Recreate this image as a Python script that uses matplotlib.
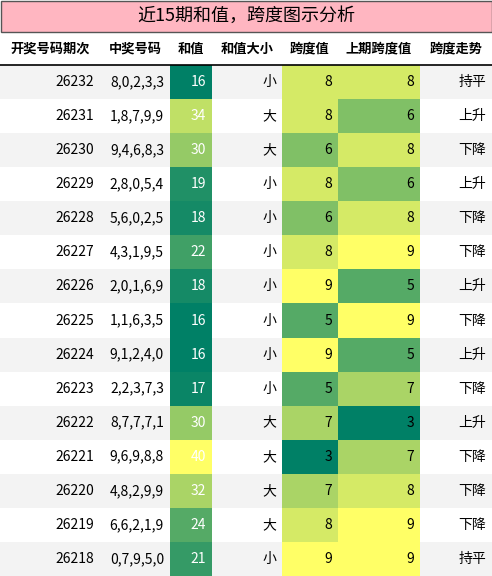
import matplotlib
matplotlib.use("Agg")
import matplotlib.pyplot as plt
from matplotlib.patches import Rectangle
from matplotlib import cm, colors

plt.rcParams['font.family'] = ['Noto Sans CJK SC', 'DejaVu Sans']

title = "近15期和值，跨度图示分析"
headers = ["开奖号码期次", "中奖号码", "和值", "和值大小", "跨度值", "上期跨度值", "跨度走势"]
issues = ["26232","26231","26230","26229","26228","26227","26226","26225","26224","26223","26222","26221","26220","26219","26218"]
numbers = ["8,0,2,3,3","1,8,7,9,9","9,4,6,8,3","2,8,0,5,4","5,6,0,2,5","4,3,1,9,5","2,0,1,6,9","1,1,6,3,5",
           "9,1,2,4,0","2,2,3,7,3","8,7,7,7,1","9,6,9,8,8","4,8,2,9,9","6,6,2,1,9","0,7,9,5,0"]
sums = [16,34,30,19,18,22,18,16,16,17,30,40,32,24,21]
sizes = ["小","大","大","小","小","小","小","小","小","小","大","大","大","大","小"]
spans = [8,8,6,8,6,8,9,5,9,5,7,3,7,8,9]
prev_spans = [8,6,8,6,8,9,5,9,5,7,3,7,8,9,9]
trends = ["持平","上升","下降","上升","下降","下降","上升","下降","上升","下降","上升","下降","下降","下降","持平"]

W, H = 492, 576
fig = plt.figure(figsize=(W/100, H/100), dpi=100)
ax = fig.add_axes([0, 0, 1, 1])
ax.set_xlim(0, W); ax.set_ylim(H, 0); ax.axis('off')

edges = [0, 100, 170, 212, 282, 338, 420, 492]
title_h, head_h = 32, 33
row_h = (H - title_h - head_h) / len(issues)

ax.add_patch(Rectangle((0.5, 0.5), W-1, title_h-1, facecolor='#ffb6c1', edgecolor='#555555', lw=1))
ax.text(W/2, title_h/2, title, ha='center', va='center', fontsize=13)

y0 = title_h
for i, h in enumerate(headers):
    ax.text((edges[i]+edges[i+1])/2, y0+head_h/2, h, ha='center', va='center', fontsize=9.5, fontweight='bold')
ax.plot([0, W], [y0+head_h, y0+head_h], color='black', lw=1.2)

cmap = cm.get_cmap('summer')
nsum = colors.Normalize(min(sums), max(sums))
nspan = colors.Normalize(min(spans+prev_spans), max(spans+prev_spans))

for r in range(len(issues)):
    top = y0 + head_h + r*row_h
    cy = top + row_h/2
    if r % 2 == 0:
        ax.add_patch(Rectangle((0, top), W, row_h, facecolor='#f3f3f3', lw=0))
    ax.add_patch(Rectangle((edges[2], top), edges[3]-edges[2], row_h, facecolor=cmap(nsum(sums[r])), lw=0))
    ax.add_patch(Rectangle((edges[4], top), edges[5]-edges[4], row_h, facecolor=cmap(nspan(spans[r])), lw=0))
    ax.add_patch(Rectangle((edges[5], top), edges[6]-edges[5], row_h, facecolor=cmap(nspan(prev_spans[r])), lw=0))
    vals = [issues[r], numbers[r], str(sums[r]), sizes[r], str(spans[r]), str(prev_spans[r]), trends[r]]
    for c, v in enumerate(vals):
        col = 'white' if c == 2 else 'black'
        ax.text(edges[c+1]-6, cy, v, ha='right', va='center', fontsize=10, color=col)

fig.savefig("out.png", dpi=100)
